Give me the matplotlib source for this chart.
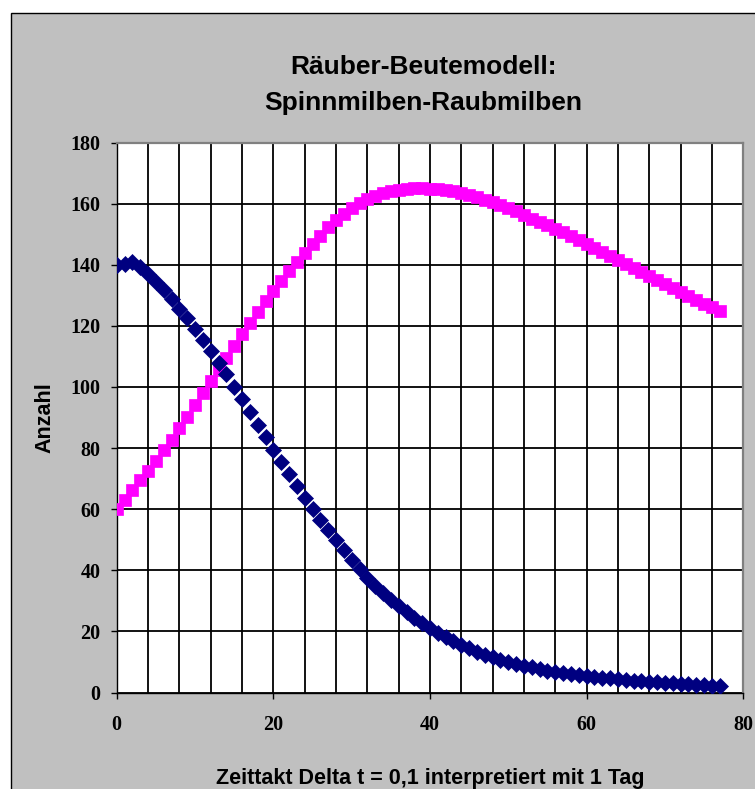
from matplotlib import pyplot as plt
from matplotlib.patches import Rectangle

# time steps (days) and population counts
tage = list(range(78))

spinnmilben = [140.0, 140.2, 140.9, 139.3, 136.9, 134.3, 131.6, 128.7, 125.6, 122.4,
               119.0, 115.5, 111.8, 108.0, 104.1, 100.1, 96.0, 91.9, 87.7, 83.5,
               79.4, 75.4, 71.4, 67.5, 63.7, 60.0, 56.5, 53.1, 49.9, 46.6,
               43.4, 40.4, 37.6, 35.0, 32.6, 30.3, 28.2, 26.2, 24.4, 22.6,
               21.0, 19.5, 18.1, 16.8, 15.6, 14.5, 13.4, 12.4, 11.5, 10.7,
               10.0, 9.4, 8.8, 8.2, 7.7, 7.2, 6.8, 6.4, 6.0, 5.7,
               5.4, 5.1, 4.8, 4.6, 4.4, 4.1, 3.9, 3.7, 3.5, 3.4,
               3.2, 3.0, 2.9, 2.7, 2.5, 2.4, 2.2, 2.1]

raubmilben = [60.0, 63.1, 66.2, 69.4, 72.6, 75.9, 79.3, 82.8, 86.5, 90.3,
              94.2, 98.0, 101.8, 105.7, 109.6, 113.5, 117.3, 121.0, 124.6, 128.1,
              131.5, 134.8, 138.0, 141.0, 143.9, 146.8, 149.5, 152.2, 154.6, 156.7,
              158.5, 160.1, 161.5, 162.6, 163.5, 164.1, 164.5, 164.8, 165.0, 165.0,
              164.9, 164.7, 164.4, 164.0, 163.4, 162.7, 162.0, 161.2, 160.4, 159.6,
              158.6, 157.5, 156.3, 155.1, 154.0, 152.9, 151.8, 150.6, 149.3, 148.0,
              146.7, 145.4, 144.0, 142.7, 141.4, 140.1, 138.8, 137.5, 136.2, 134.9,
              133.6, 132.3, 131.0, 129.7, 128.4, 127.2, 126.0, 124.8]

x_ticks = [0, 20, 40, 60, 80]
y_ticks = [0, 20, 40, 60, 80, 100, 120, 140, 160, 180]

SANS = "Liberation Sans"
SERIF = "Liberation Serif"

fig = plt.figure(figsize=(7.55, 7.89), dpi=100)
fig.patch.set_facecolor("white")

# grey chart area (Excel style), runs off the right and bottom edge
fig.patches.append(Rectangle((10.7 / 755, -0.1), 1.2, 1 - 12.7 / 789 + 0.1,
                             transform=fig.transFigure, facecolor="#c0c0c0",
                             edgecolor="black", linewidth=1.0, zorder=-10))

ax = fig.add_axes([116.7 / 755, 1 - 692.5 / 789, 626.6 / 755, 550 / 789])
ax.set_zorder(1)
ax.set_facecolor("white")

ax.plot(tage, raubmilben, linestyle="none", marker="s", markersize=8.6,
        color="#ff00ff", markeredgewidth=0.5, markeredgecolor="#ff00ff", zorder=3)
ax.plot(tage, spinnmilben, linestyle="none", marker="D", markersize=8.6,
        color="#000080", markeredgewidth=0.5, markeredgecolor="#000080", zorder=4)

ax.set_xlim(0, 80)
ax.set_ylim(0, 180)
ax.set_xticks(x_ticks)
ax.set_xticks(range(0, 81, 4), minor=True)
ax.set_yticks(y_ticks)
ax.grid(True, which="both", axis="x", color="black", linewidth=1.3)
ax.grid(True, which="major", axis="y", color="black", linewidth=1.3)
ax.set_axisbelow(True)

ax.tick_params(axis="both", which="major", direction="out", length=4.3, width=1.0,
               color="black")
ax.tick_params(axis="x", which="minor", length=0)
ax.tick_params(axis="x", which="major", pad=12)
ax.tick_params(axis="y", which="major", pad=7.5)
for lbl in ax.get_xticklabels() + ax.get_yticklabels():
    lbl.set_fontfamily(SERIF)
    lbl.set_fontweight("bold")
    lbl.set_fontsize(14.5)

for s in ["left", "bottom"]:
    ax.spines[s].set_color("black")
    ax.spines[s].set_linewidth(1.0)
for s in ["top", "right"]:
    ax.spines[s].set_color("#808080")
    ax.spines[s].set_linewidth(1.6)

ax.set_xlabel("Zeittakt Delta t = 0,1 interpretiert mit 1 Tag", fontfamily=SANS,
              fontweight="bold", fontsize=15.5)
ax.xaxis.label.set_va("baseline")
ax.xaxis.set_label_coords(0.5, (692.5 - 783.6) / 550)

ax.set_ylabel("Anzahl", fontfamily=SANS, fontweight="bold", fontsize=15.5)
ax.yaxis.label.set_va("center")
ax.yaxis.set_label_coords((45 - 116.7) / 626.6, 0.5)

# title, two lines
fig.text(423 / 755, 1 - 74 / 789, "Räuber-Beutemodell:", ha="center", va="baseline",
         fontfamily=SANS, fontweight="bold", fontsize=19)
fig.text(423 / 755, 1 - 110 / 789, "Spinnmilben-Raubmilben", ha="center", va="baseline",
         fontfamily=SANS, fontweight="bold", fontsize=19)

plt.savefig("out.png", dpi=100)
